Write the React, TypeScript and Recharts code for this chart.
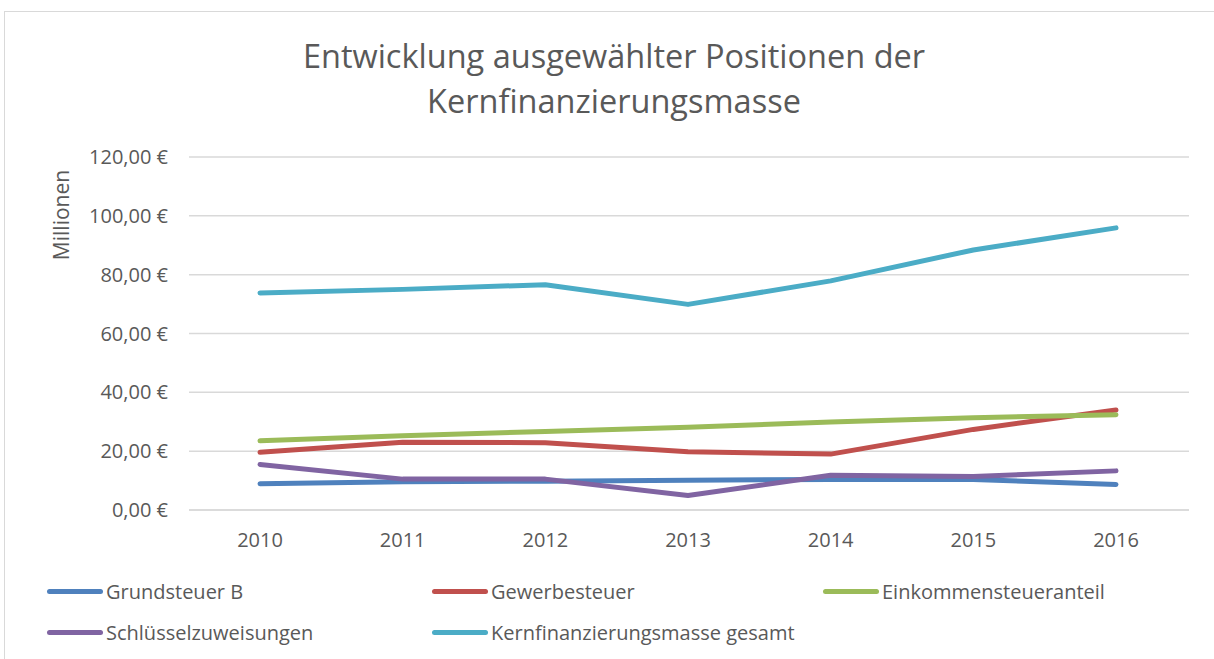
import { LineChart, Line, XAxis, YAxis, CartesianGrid } from 'recharts';

const years = ['2010', '2011', '2012', '2013', '2014', '2015', '2016'];
const grundsteuerB = [8.9, 9.6, 9.8, 10.1, 10.4, 10.4, 8.7];
const gewerbesteuer = [19.6, 23.0, 22.9, 19.8, 19.0, 27.4, 34.0];
const einkommensteuer = [23.5, 25.2, 26.7, 28.1, 29.9, 31.4, 32.4];
const schluessel = [15.5, 10.5, 10.5, 4.9, 11.8, 11.4, 13.3];
const kernGesamt = [73.8, 75.0, 76.6, 69.9, 77.9, 88.4, 95.9];
const yTicks = [0, 20, 40, 60, 80, 100, 120];

const series = [
  { key: 'gb', name: 'Grundsteuer B', color: '#4f81bd', values: grundsteuerB },
  { key: 'gw', name: 'Gewerbesteuer', color: '#c0504d', values: gewerbesteuer },
  { key: 'ek', name: 'Einkommensteueranteil', color: '#9bbb59', values: einkommensteuer },
  { key: 'sz', name: 'Schlüsselzuweisungen', color: '#8064a2', values: schluessel },
  { key: 'kf', name: 'Kernfinanzierungsmasse gesamt', color: '#4bacc6', values: kernGesamt },
];

const data = years.map((year, i) => {
  const row: Record<string, string | number> = { year };
  series.forEach((s) => { row[s.key] = s.values[i]; });
  return row;
});

const FONT = "'Open Sans', sans-serif";
const TEXT = '#595959';

const fmtEuro = (v: number) => v.toFixed(2).replace('.', ',') + ' €';

function YLabel() {
  return (
    <text x={61} y={215} transform="rotate(-90 61 215)" textAnchor="middle"
      dominantBaseline="central" fill={TEXT} fontSize={21} fontFamily={FONT}>
      Millionen
    </text>
  );
}

export default function App() {
  return (
    <div style={{ position: 'fixed', left: 0, top: 0, width: 1214, height: 659, background: '#fff', fontFamily: FONT, overflow: 'hidden' }}>
      <div style={{ position: 'absolute', left: 4, top: 11, width: 1300, height: 800, border: '1px solid #d9d9d9' }} />
      <div style={{ position: 'absolute', left: 0, top: 33, width: 1228, textAlign: 'center', color: TEXT, fontSize: 32.5, lineHeight: '45px' }}>
        Entwicklung ausgewählter Positionen der<br />Kernfinanzierungsmasse
      </div>
      <div style={{ position: 'absolute', left: 0, top: 0 }}>
        <LineChart width={1214} height={659} data={data}
          margin={{ top: 157, right: 25, bottom: 109, left: 69 }}>
          <CartesianGrid vertical={false} stroke="#d9d9d9" strokeWidth={1.5} />
          <XAxis dataKey="year" height={40} tickLine={false} tickSize={0} tickMargin={23}
            padding={{ left: 71, right: 73 }}
            axisLine={{ stroke: '#d9d9d9', strokeWidth: 1.5 }}
            tick={{ fill: TEXT, fontSize: 20, fontFamily: FONT }} />
          <YAxis width={120} domain={[0, 120]} ticks={yTicks} tickFormatter={fmtEuro}
            axisLine={false} tickLine={false} tickSize={0} tickMargin={21}
            tick={{ fill: TEXT, fontSize: 20, fontFamily: FONT }} label={<YLabel />} />
          {series.map((s) => (
            <Line key={s.key} dataKey={s.key} name={s.name} stroke={s.color} strokeWidth={5}
              strokeLinecap="round" strokeLinejoin="round" dot={false} activeDot={false}
              type="linear" isAnimationActive={false} />
          ))}
        </LineChart>
      </div>
      {series.map((s, i) => (
        <div key={s.key} style={{
          position: 'absolute', left: [47, 432, 823][i % 3], top: i < 3 ? 577 : 618,
          height: 28, display: 'flex', alignItems: 'center', color: TEXT, fontSize: 20,
        }}>
          <span style={{ display: 'inline-block', width: 56, height: 5, borderRadius: 3, background: s.color, marginRight: 3 }} />
          {s.name}
        </div>
      ))}
    </div>
  );
}
